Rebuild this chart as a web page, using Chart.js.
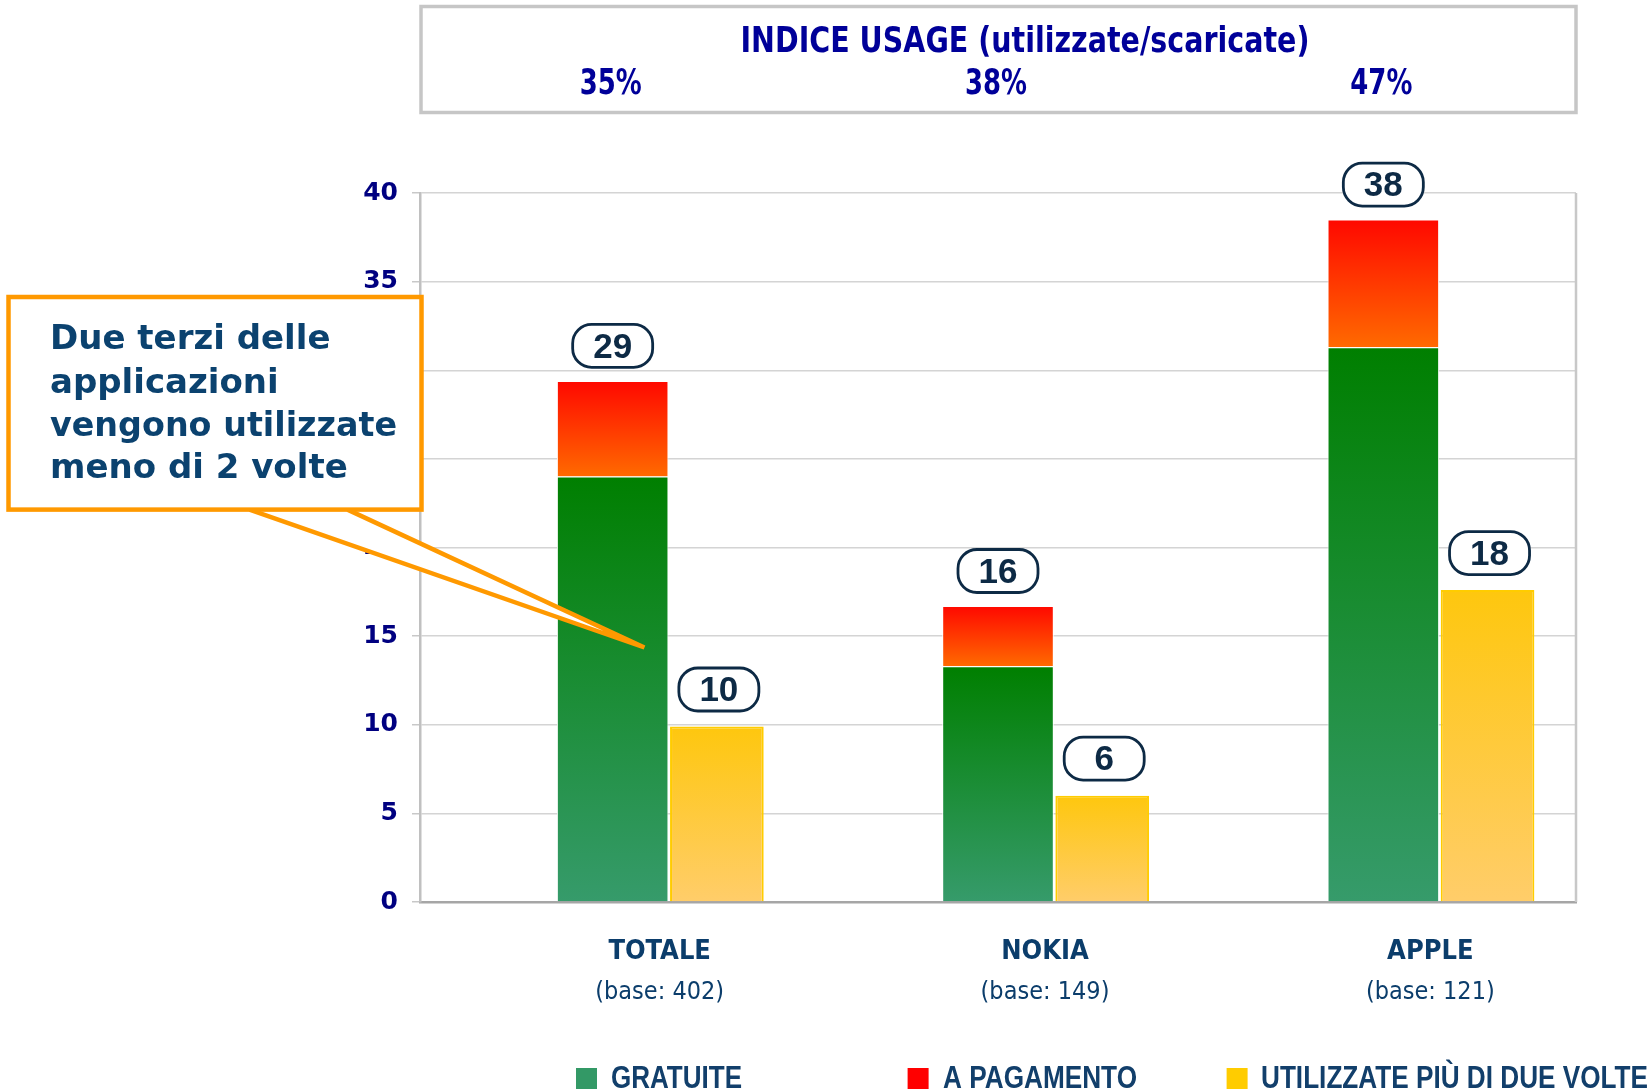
<!DOCTYPE html>
<html><head><meta charset="utf-8">
<script src="https://cdn.jsdelivr.net/npm/chart.js@4.4.1/dist/chart.umd.min.js"></script>
<style>html,body{margin:0;padding:0;background:#fff;}#wrap{width:1651px;height:1092px;position:relative;}</style>
</head><body><div id="wrap"><canvas id="c" width="1651" height="1092"></canvas></div>
<script>
// ---- data ----
const categories = ['TOTALE', 'NOKIA', 'APPLE'];
const baseLabels = ['(base: 402)', '(base: 149)', '(base: 121)'];
const gratuite = [24.0, 13.3, 31.3];
const aPagamento = [5.4, 3.4, 7.2];
const utilizzate = [9.9, 6.0, 17.6];
const totalLabels = ['29', '16', '38'];
const utilizzateLabels = ['10', '6', '18'];
const usageIndex = ['35%', '38%', '47%'];
const usageTitle = 'INDICE USAGE (utilizzate/scaricate)';
const legendLabels = ['GRATUITE', 'A PAGAMENTO', 'UTILIZZATE PIÙ DI DUE VOLTE'];
const calloutLines = ['Due terzi delle', 'applicazioni', 'vengono utilizzate', 'meno di 2 volte'];

// ---- styles ----
const GREEN = ['#007f00', '#369b6b'];
const RED = ['#ff0800', '#ff6a00'];
const YELLOW = ['#fec70e', '#ffcd6a'];
const CP = 0.8113;
const COND = '"DejaVu Sans Condensed", "Liberation Sans", sans-serif';

function grad(stops, baseArr) {
  return (ctx) => {
    const chart = ctx.chart;
    if (ctx.type !== 'data' || !chart.chartArea) return stops[0];
    const y = chart.scales.y;
    const i = ctx.dataIndex;
    const start = baseArr ? baseArr[i] : 0;
    const v = ctx.dataset.data[i];
    const top = y.getPixelForValue(start + v), bot = y.getPixelForValue(start);
    if (!isFinite(top) || !isFinite(bot) || top === bot) return stops[0];
    const g = chart.ctx.createLinearGradient(0, top, 0, bot);
    g.addColorStop(0, stops[0]);
    g.addColorStop(1, stops[1]);
    return g;
  };
}

function pill(ctx, cx, cy, text) {
  const w = 80, h = 43, r = 19;
  ctx.beginPath();
  ctx.roundRect(cx - w / 2, cy - h / 2, w, h, r);
  ctx.fillStyle = '#ffffff';
  ctx.fill();
  ctx.lineWidth = 2.8;
  ctx.strokeStyle = '#0d2a45';
  ctx.stroke();
  ctx.font = 'bold 35px "Liberation Sans", Arial, sans-serif';
  ctx.textAlign = 'center';
  ctx.textBaseline = 'middle';
  ctx.fillStyle = '#0d2a45';
  ctx.fillText(text, cx, cy + 2);
}

const decor = {
  id: 'decor',
  afterDatasetsDraw(chart) {
    const ctx = chart.ctx;
    ctx.save();
    const redMeta = chart.getDatasetMeta(2);
    const yelMeta = chart.getDatasetMeta(3);
    redMeta.data.forEach((el, i) => pill(ctx, el.x, el.y - 35, totalLabels[i]));
    yelMeta.data.forEach((el, i) => pill(ctx, el.x + 2, el.y - 37, utilizzateLabels[i]));
    ctx.restore();
  },
  afterDraw(chart) {
    const ctx = chart.ctx;
    const a = chart.chartArea;
    const x = chart.scales.x;
    ctx.save();
    // right border of plot
    ctx.strokeStyle = '#c8c8c8';
    ctx.lineWidth = 2.5;
    ctx.beginPath();
    ctx.moveTo(a.right, a.top);
    ctx.lineTo(a.right, a.bottom);
    ctx.stroke();

    // header box
    ctx.strokeStyle = '#c6c6c6';
    ctx.lineWidth = 3.5;
    ctx.strokeRect(a.left + 1, 6.5, a.right - a.left - 1, 106);
    ctx.fillStyle = '#000099';
    ctx.textAlign = 'center';
    ctx.textBaseline = 'middle';
    ctx.font = 'bold 35px "DejaVu Sans", sans-serif';
    ctx.fillText(usageTitle, 1025, 43, 569);
    usageIndex.forEach((t, i) => {
      ctx.fillText(t, x.getPixelForValue(i) - 2, 85, 62);
    });

    // legend
    const legColors = ['#339966', '#ff0000', '#ffcc00'];
    const legBoxX = [576, 907.6, 1226.6];
    const legTextX = [611, 943, 1261];
    const legTextW = [131, 194, 387];
    ctx.font = 'bold 31px "Liberation Sans", sans-serif';
    ctx.textAlign = 'left';
    legendLabels.forEach((t, i) => {
      ctx.fillStyle = legColors[i];
      ctx.fillRect(legBoxX[i], 1068, 21, 21);
      ctx.fillStyle = '#123f6b';
      ctx.fillText(t, legTextX[i], 1079, legTextW[i]);
    });

    // callout
    ctx.lineWidth = 4.5;
    ctx.strokeStyle = '#ff9900';
    ctx.fillStyle = '#ffffff';
    ctx.beginPath();
    ctx.moveTo(249.5, 509.6);
    ctx.lineTo(644.4, 647.5);
    ctx.lineTo(347.5, 509.6);
    ctx.closePath();
    ctx.fill();
    ctx.beginPath();
    ctx.moveTo(249.5, 509.6);
    ctx.lineTo(644.4, 647.5);
    ctx.lineTo(347.5, 509.6);
    ctx.stroke();
    ctx.fillRect(8.5, 297, 413, 212.6);
    ctx.strokeRect(8.5, 297, 413, 212.6);
    ctx.fillStyle = '#0b426f';
    ctx.font = 'bold 34px "DejaVu Sans", sans-serif';
    ctx.textAlign = 'left';
    const ly = [340, 384, 427, 469];
    calloutLines.forEach((t, i) => ctx.fillText(t, 50, ly[i], 347));
    ctx.restore();
  }
};

new Chart(document.getElementById('c'), {
  type: 'bar',
  data: {
    labels: categories,
    datasets: [
      { label: '_spacer', data: [], stack: 's0', categoryPercentage: CP, barPercentage: 0.9 },
      { label: legendLabels[0], data: gratuite, stack: 's1', backgroundColor: grad(GREEN),
        borderColor: '#ffffff', borderWidth: 1, categoryPercentage: CP, barPercentage: 1.071 },
      { label: legendLabels[1], data: aPagamento, stack: 's1', backgroundColor: grad(RED, gratuite),
        borderColor: '#ffffff', borderWidth: 1, categoryPercentage: CP, barPercentage: 1.071 },
      { label: legendLabels[2], data: utilizzate, stack: 's2', backgroundColor: grad(YELLOW),
        borderColor: '#ffcc00', borderWidth: 2, categoryPercentage: CP, barPercentage: 0.899 }
    ]
  },
  options: {
    responsive: false,
    animation: false,
    devicePixelRatio: 1,
    layout: { padding: { left: 0, right: 75, top: 193, bottom: 80 } },
    plugins: { legend: { display: false }, tooltip: { enabled: false } },
    scales: {
      x: {
        stacked: true,
        offset: true,
        grid: { display: false, drawTicks: false },
        border: { color: '#a6a6a6', width: 2.5 },
        ticks: { color: '#0b3d6b', font: { family: COND, weight: 'bold', size: 27 },
                 labelOffset: 47, padding: 34, maxRotation: 0, autoSkip: false },
        afterFit: (s) => { s.height = 60; }
      },
      x2: {
        type: 'category',
        labels: baseLabels,
        position: 'bottom',
        offset: true,
        grid: { display: false, drawTicks: false },
        border: { display: false },
        ticks: { color: '#0b3d6b', font: { family: COND, size: 25 },
                 labelOffset: 47, padding: 15, maxRotation: 0, autoSkip: false },
        afterFit: (s) => { s.height = 50; }
      },
      y: {
        stacked: true,
        min: 0,
        max: 40,
        ticks: { stepSize: 5, color: '#000080', font: { family: '"DejaVu Sans", sans-serif', weight: 'bold', size: 25 }, padding: 14 },
        grid: { color: '#d4d4d4', lineWidth: 1.5, tickLength: 8, tickColor: '#c8c8c8' },
        border: { color: '#c0c0c0', width: 2.5 },
        afterFit: (s) => { s.width = 420; }
      }
    }
  },
  plugins: [decor]
});
</script>
</body></html>
